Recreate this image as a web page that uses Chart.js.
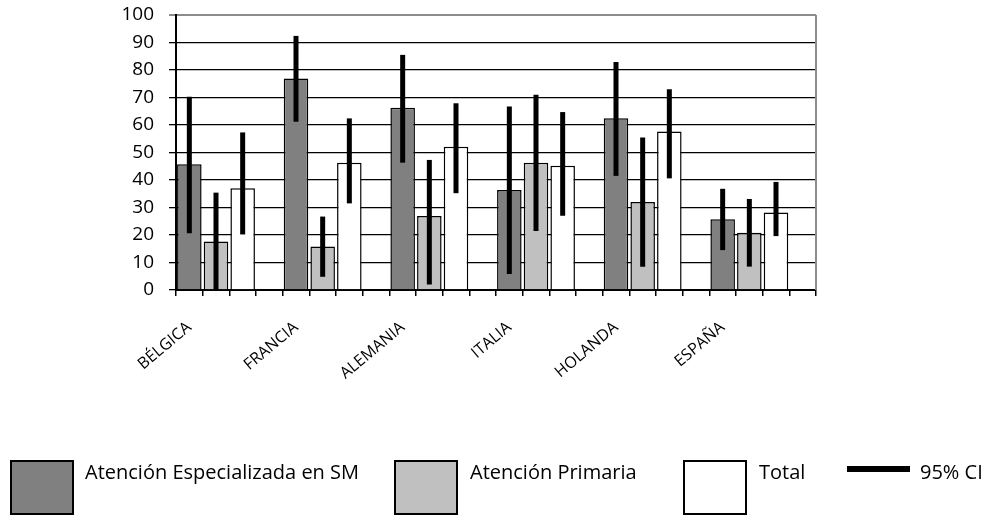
<!DOCTYPE html>
<html>
<head>
<meta charset="utf-8">
<script src="https://cdn.jsdelivr.net/npm/chart.js@4.4.1/dist/chart.umd.min.js"></script>
<style>
  body { margin: 0; background: #fff; }
  #wrap { position: relative; width: 984px; height: 515px; font-family: "Open Sans", sans-serif; }
  canvas { position: absolute; left: 0; top: 0; }
  .box { position: absolute; top: 460px; width: 60px; height: 51px; border: 2px solid #000; }
  .lbl { position: absolute; top: 459px; font-size: 20px; line-height: 26px; color: #000; white-space: nowrap; }
  .ciline { position: absolute; top: 466px; left: 847px; width: 63px; height: 6px; background: #000; }
</style>
</head>
<body>
<div id="wrap">
  <canvas id="chart" width="984" height="515"></canvas>
  <div class="box" style="left:10px;background:#808080"></div>
  <div class="lbl" style="left:85px">Atención Especializada en SM</div>
  <div class="box" style="left:394px;background:#c0c0c0"></div>
  <div class="lbl" style="left:470px">Atención Primaria</div>
  <div class="box" style="left:683px;background:#fff"></div>
  <div class="lbl" style="left:759px">Total</div>
  <div class="ciline"></div>
  <div class="lbl" style="left:920px">95% CI</div>
</div>
<script>
// Países (cada grupo ocupa 4 huecos: 3 barras + separación)
const countries = ['BÉLGICA', 'FRANCIA', 'ALEMANIA', 'ITALIA', 'HOLANDA', 'ESPAÑA'];

// Porcentajes por serie
const smValues    = [45.7, 76.9, 66.3, 36.4, 62.5, 25.7];
const apValues    = [17.6, 15.8, 26.9, 46.3, 32.0, 20.8];
const totalValues = [37.0, 46.3, 52.1, 45.2, 57.6, 28.2];

// Intervalos de confianza 95%
const smLow     = [20.6, 61.2, 46.3, 5.8, 41.5, 14.5];
const smHigh    = [70.3, 92.4, 85.5, 66.7, 82.9, 36.8];
const apLow     = [0.0, 4.8, 2.0, 21.5, 8.5, 8.5];
const apHigh    = [35.4, 26.7, 47.3, 71.0, 55.5, 33.1];
const totalLow  = [20.2, 31.5, 35.2, 27.0, 40.6, 19.6];
const totalHigh = [57.3, 62.4, 67.9, 64.7, 73.0, 39.3];

const yTicks = [0, 10, 20, 30, 40, 50, 60, 70, 80, 90, 100];

const SLOTS = 4;

// repartir los valores en los huecos de cada grupo
function spread(values, offset) {
    const out = new Array(countries.length * SLOTS).fill(null);
    values.forEach((v, i) => { out[i * SLOTS + offset] = v; });
    return out;
}

const slotLabels = [];
countries.forEach(c => slotLabels.push(c, '', '', ''));

// barras de error dibujadas con la escala y
const errorBars = {
    id: 'errorBars',
    afterDatasetsDraw(chart) {
        const ctx = chart.ctx;
        const y = chart.scales.y;
        chart.data.datasets.forEach((ds, i) => {
            const meta = chart.getDatasetMeta(i);
            meta.data.forEach((bar, j) => {
                if (ds.ciLow[j] == null) return;
                ctx.save();
                ctx.strokeStyle = '#000';
                ctx.lineWidth = 5;
                ctx.beginPath();
                ctx.moveTo(bar.x, y.getPixelForValue(ds.ciLow[j]));
                ctx.lineTo(bar.x, y.getPixelForValue(ds.ciHigh[j]));
                ctx.stroke();
                ctx.restore();
            });
        });
    }
};

// borde derecho gris del área de trazado
const frame = {
    id: 'frame',
    beforeDatasetsDraw(chart) {
        const a = chart.chartArea, ctx = chart.ctx;
        ctx.save();
        ctx.strokeStyle = '#8c8c8c';
        ctx.lineWidth = 2;
        ctx.beginPath();
        ctx.moveTo(a.right, a.top);
        ctx.lineTo(a.right, a.bottom);
        ctx.stroke();
        ctx.restore();
    }
};

const barStyle = {
    borderColor: '#000',
    borderWidth: 1.5,
    barPercentage: 0.92,
    categoryPercentage: 1,
    grouped: false
};

new Chart(document.getElementById('chart'), {
    type: 'bar',
    data: {
        labels: slotLabels,
        datasets: [
            Object.assign({ label: 'Atención Especializada en SM', data: spread(smValues, 0), backgroundColor: '#808080',
                ciLow: spread(smLow, 0), ciHigh: spread(smHigh, 0) }, barStyle),
            Object.assign({ label: 'Atención Primaria', data: spread(apValues, 1), backgroundColor: '#c0c0c0',
                ciLow: spread(apLow, 1), ciHigh: spread(apHigh, 1) }, barStyle),
            Object.assign({ label: 'Total', data: spread(totalValues, 2), backgroundColor: '#ffffff',
                ciLow: spread(totalLow, 2), ciHigh: spread(totalHigh, 2) }, barStyle)
        ]
    },
    options: {
        responsive: false,
        animation: false,
        layout: { padding: { top: 15, right: 168, left: 0, bottom: 0 } },
        plugins: { legend: { display: false }, tooltip: { enabled: false } },
        scales: {
            x: {
                afterFit(scale) { scale.height = 225; },
                grid: { offset: true, drawOnChartArea: false, color: '#000', tickLength: 6, lineWidth: 1.5 },
                border: { color: '#000', width: 2 },
                ticks: {
                    autoSkip: false, minRotation: 40, maxRotation: 40, padding: 22,
                    color: '#000', font: { family: 'Open Sans', size: 16 }
                }
            },
            y: {
                min: 0, max: 100,
                afterFit(scale) {
                    scale.width = 176;
                    scale.paddingTop = 0;
                    scale.paddingBottom = 0;
                },
                afterBuildTicks(scale) { scale.ticks = yTicks.map(v => ({ value: v })); },
                grid: {
                    color: c => c.tick && c.tick.value === 100 ? '#8c8c8c' : '#000',
                    lineWidth: c => c.tick && c.tick.value === 100 ? 2 : 1.3,
                    tickLength: 7
                },
                border: { color: '#000', width: 2 },
                ticks: { padding: 15, color: '#000', font: { family: 'Open Sans', size: 19 } }
            }
        }
    },
    plugins: [frame, errorBars]
});
</script>
</body>
</html>
